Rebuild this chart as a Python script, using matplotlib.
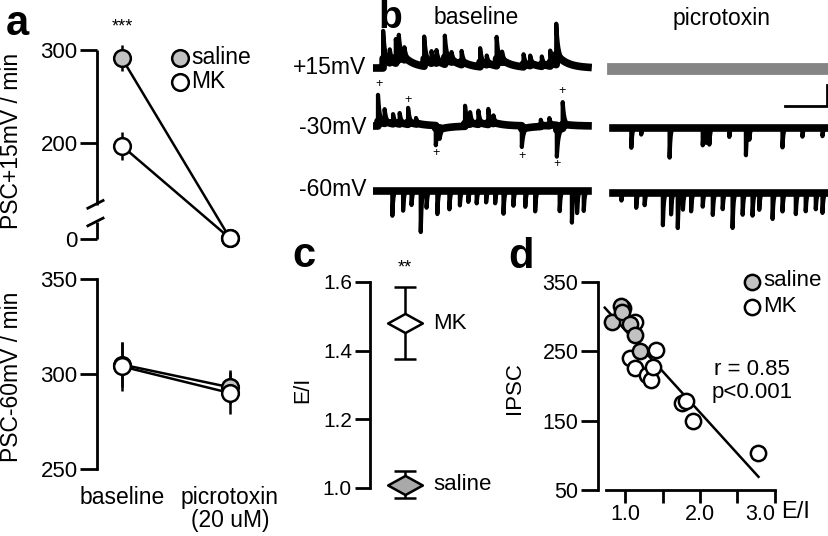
import numpy as np
import matplotlib.pyplot as plt
from matplotlib.path import Path
from matplotlib.lines import Line2D
from matplotlib.transforms import ScaledTranslation

plt.rcParams['font.family'] = ['Liberation Sans', 'DejaVu Sans']
plt.rcParams['font.size'] = 14

# ---- panel a: PSC rates ----
conditions = ['baseline', 'picrotoxin\n(20 uM)']
sal_p15 = [291, 3]
sal_p15_err = [14, 2]
mk_p15 = [197, 3]
mk_p15_err = [15, 2]
sal_m60 = [305, 293]
sal_m60_err = [12, 9]
mk_m60 = [304, 290]
mk_m60_err = [13, 11]

# ---- panel b: event times (fraction of sweep) and amplitudes ----
p15_base_t = [0.047, 0.078, 0.106, 0.12, 0.146, 0.238, 0.272, 0.295, 0.334, 0.365,
              0.412, 0.498, 0.529, 0.575, 0.60, 0.70, 0.731, 0.785, 0.824, 0.852]
p15_base_a = [38, 13, 24, 22, 12, 30, 12, 13, 29, 10, 14, 19, 9, 29, 10, 13, 10, 10, 16, 42]
m30_base_t = [0.023, 0.054, 0.093, 0.124, 0.163, 0.20, 0.292, 0.31, 0.428, 0.451,
              0.49, 0.536, 0.56, 0.692, 0.78, 0.82, 0.855, 0.882]
m30_base_a = [32, 14, 10, 11, 17, 6, -20, -10, 21, 12, 14, 16, 8, -22, 7, 8, -32, 28]
m60_base_t = [0.09, 0.14, 0.179, 0.222, 0.249, 0.299, 0.355, 0.404, 0.443, 0.482,
              0.526, 0.568, 0.607, 0.653, 0.708, 0.754, 0.868, 0.925, 0.949, 0.98]
m60_base_a = [-25, -20, -15, -42, -18, -25, -20, -15, -12, -13,
              -12, -13, -23, -15, -17, -22, -22, -33, -23, -22]
m30_ptx_t = [0.085, 0.131, 0.263, 0.417, 0.433, 0.448, 0.541, 0.618, 0.634, 0.788, 0.881, 0.974]
m30_ptx_a = [-21, -7, -32, -19, -16, -17, -9, -29, -12, -21, -9, -9]
m60_ptx_t = [0.039, 0.108, 0.147, 0.232, 0.27, 0.301, 0.325, 0.363, 0.417, 0.464, 0.51,
             0.556, 0.603, 0.649, 0.68, 0.742, 0.788, 0.85, 0.896, 0.943, 0.974]
m60_ptx_a = [-8, -15, -13, -33, -22, -38, -18, -20, -15, -23, -17,
             -37, -22, -23, -18, -28, -20, -23, -20, -17, -22]
plus_t = [0.028, 0.163, 0.293, 0.693, 0.856, 0.88]
plus_y = [-84, -100, -153, -156, -164, -91]

# ---- panel c: E/I ----
ei_groups = ['saline', 'MK']
ei_mean = [1.01, 1.48]
ei_err = [0.04, 0.105]

# ---- panel d: IPSC vs E/I ----
sal_ei = [0.82, 0.95, 0.96, 1.07, 1.13, 1.20]
sal_ipsc = [292, 316, 306, 290, 274, 251]
mk_ei = [0.97, 1.13, 1.07, 1.13, 1.29, 1.35, 1.38, 1.42, 1.76, 1.82, 1.91, 2.78]
mk_ipsc = [313, 292, 240, 226, 216, 209, 228, 252, 176, 178, 149, 104]
fit_ei = [0.73, 2.78]
fit_ipsc = [313, 69]

GRAY = '#c2c2c2'
W, H = 829, 536
fig = plt.figure(figsize=(W / 100, H / 100), dpi=100)
FS = 16.5


def px_axes(l, t, r, b):
    return fig.add_axes([l / W, 1 - b / H, (r - l) / W, (b - t) / H])


def fx(x):
    return x / W


def fy(y):
    return 1 - y / H


def style(ax, ylen=12, lsize=16):
    for s in ['top', 'right', 'bottom']:
        ax.spines[s].set_visible(False)
    ax.spines['left'].set_linewidth(2)
    ax.tick_params(axis='y', length=ylen, width=2, pad=2, labelsize=lsize)
    ax.tick_params(axis='x', length=0)
    ax.patch.set_alpha(0)


def group(ax, x, y, err, fill):
    ax.errorbar(x, y, yerr=err, fmt='-o', color='k', mfc=fill, mec='k', ms=12,
                mew=1.8, lw=1.8, elinewidth=1.8, capsize=0)


# ---------- panel a (top, broken axis) ----------
def fwd(v):
    v = np.asarray(v, dtype=float)
    return np.where(v >= 125, v, 97 + v * 28 / 125)


def inv(u):
    u = np.asarray(u, dtype=float)
    return np.where(u >= 125, u, (u - 97) * 125 / 28)


x = np.arange(len(conditions))
ax1 = px_axes(97, 30, 300, 250)
style(ax1)
ax1.spines['left'].set_visible(False)
ax1.set_yscale('function', functions=(fwd, inv))
ax1.set_ylim(-52.7, 321.5)
ax1.set_xlim(-0.2315, 1.648)
ax1.set_yticks([0, 200, 300])
ax1.set_yticklabels(['0', '200', '300'])
ax1.set_xticks([])
ax1.yaxis.set_minor_locator(plt.NullLocator())
ytr = ax1.get_yaxis_transform()
ax1.plot([0, 0], [133, 300], color='k', lw=2, transform=ytr, clip_on=False, solid_capstyle='butt')
ax1.plot([0, 0], [0, 80], color='k', lw=2, transform=ytr, clip_on=False, solid_capstyle='butt')
ax1.plot([-0.045, 0.03], [0.19, 0.225], color='k', lw=2, transform=ax1.transAxes, clip_on=False)
ax1.plot([-0.045, 0.03], [0.110, 0.145], color='k', lw=2, transform=ax1.transAxes, clip_on=False)
group(ax1, x, sal_p15, sal_p15_err, GRAY)
group(ax1, x, mk_p15, mk_p15_err, 'white')
fig.text(fx(122), fy(27), '***', ha='center', va='center', fontsize=13)
fig.add_artist(Line2D([fx(180)], [fy(58)], marker='o', ms=12, mfc=GRAY, mec='k', mew=1.8))
fig.add_artist(Line2D([fx(180)], [fy(82)], marker='o', ms=12, mfc='white', mec='k', mew=1.8))
fig.text(fx(191), fy(57), 'saline', va='center', fontsize=FS)
fig.text(fx(191), fy(81), 'MK', va='center', fontsize=FS)
fig.text(fx(12), fy(141), 'PSC+15mV / min', rotation=90, ha='center', va='center', fontsize=FS)

# ---------- panel a (bottom) ----------
ax2 = px_axes(97, 265, 300, 480)
style(ax2)
ax2.set_ylim(244.2, 357.4)
ax2.set_xlim(-0.2315, 1.648)
ax2.spines['left'].set_bounds(250, 350)
ax2.set_yticks([250, 300, 350])
ax2.set_xticks(x)
ax2.set_xticklabels(conditions, fontsize=FS, linespacing=1.05)
ax2.tick_params(axis='x', pad=4)
group(ax2, x, sal_m60, sal_m60_err, GRAY)
group(ax2, x, mk_m60, mk_m60_err, 'white')
fig.text(fx(12), fy(377), 'PSC-60mV / min', rotation=90, ha='center', va='center', fontsize=FS)

# ---------- panel b: traces ----------
axb = px_axes(373, 0, 829, 240)
axb.set_xlim(0, 456 / 215)
axb.set_ylim(-240, 0)
axb.axis('off')
t = np.linspace(0, 1, 2500)


def trace(times, amps, tau, slow=0.0):
    fast = np.zeros_like(t)
    band = np.zeros_like(t)
    for t0, a in zip(times, amps):
        dt = t - t0
        on = dt >= 0
        kf = np.zeros_like(t)
        ks = np.zeros_like(t)
        kf[on] = np.exp(-dt[on] / tau)
        ks[on] = np.exp(-dt[on] / 0.05)
        fast += a * ((1 - slow) * kf + slow * ks)
        band += a * slow * ks
    return fast, band


ptx0 = 240 / 215
sweeps = [
    (0, -68, p15_base_t, p15_base_a, 0.008, 0.25),
    (0, -126, m30_base_t, m30_base_a, 0.007, 0.15),
    (0, -191, m60_base_t, m60_base_a, 0.004, 0.0),
    (ptx0, -128, m30_ptx_t, m30_ptx_a, 0.004, 0.0),
    (ptx0, -193, m60_ptx_t, m60_ptx_a, 0.004, 0.0),
]
for x0, y0, tt, aa, tau, slow in sweeps:
    fast, band = trace(tt, aa, tau, slow)
    axb.plot(x0 + t, y0 + band, color='k', lw=5.5)
    axb.plot(x0 + t, y0 + fast, color='k', lw=3)
axb.plot(ptx0 + t, np.full_like(t, -69), color='#858585', lw=8.5)
for xp, yp in zip(plus_t, plus_y):
    axb.text(xp, yp, '+', ha='center', va='center', fontsize=9)
for lab, yl in zip(['+15mV', '-30mV', '-60mV'], [-67, -127, -190]):
    axb.text(-0.03, yl, lab, ha='right', va='center', fontsize=FS, clip_on=False)
axb.text(0.48, -18, 'baseline', ha='center', va='center', fontsize=FS)
axb.text(1.623, -18, 'picrotoxin', ha='center', va='center', fontsize=FS)
axb.plot([1.916, 2.11, 2.11], [-106, -106, -85], color='k', lw=2, clip_on=False)

# ---------- panel c ----------
ax3 = px_axes(370, 265, 480, 500)
style(ax3, ylen=11, lsize=15)
ax3.set_ylim(0.965, 1.6495)
ax3.set_xlim(-1, 2.14)
ax3.spines['left'].set_bounds(1.0, 1.6)
ax3.set_yticks([1.0, 1.2, 1.4, 1.6])
ax3.set_yticklabels(['1.0', '1.2', '1.4', '1.6'])
ax3.set_xticks([])
diamond = Path([(-1, 0), (0, 0.55), (1, 0), (0, -0.55), (-1, 0)],
               [Path.MOVETO, Path.LINETO, Path.LINETO, Path.LINETO, Path.CLOSEPOLY])
for g, m, e, fill in zip(ei_groups, ei_mean, ei_err, ['#a9a9a9', 'white']):
    ax3.errorbar([0], [m], yerr=[e], fmt='none', ecolor='k', elinewidth=1.8,
                 capsize=8, capthick=1.8)
    ax3.plot([0], [m], marker=diamond, ms=25, mfc=fill, mec='k', mew=1.8, zorder=5)
    ax3.text(0.8, m, g, va='center', fontsize=16)
ax3.text(0, 1.641, '**', ha='center', va='center', fontsize=13)
fig.text(fx(303), fy(390), 'E/I', rotation=90, ha='center', va='center', fontsize=15.5)

# ---------- panel d ----------
ax4 = px_axes(598, 265, 829, 490)
style(ax4, ylen=12, lsize=15.5)
ax4.spines['bottom'].set_visible(True)
ax4.spines['bottom'].set_linewidth(2)
ax4.set_xlim(0.64, 3.72)
ax4.set_ylim(50, 374.5)
ax4.spines['left'].set_bounds(50, 350)
ax4.spines['bottom'].set_bounds(0.75, 3.0)
ax4.set_yticks([50, 150, 250, 350])
ax4.set_xticks([1.0, 1.5, 2.0, 2.5, 3.0])
ax4.set_xticklabels(['1.0', '', '2.0', '', '3.0'])
ax4.tick_params(axis='x', length=9, width=2, pad=1, labelsize=15.5)
last = ax4.get_xticklabels()[-1]
last.set_transform(last.get_transform() + ScaledTranslation(-0.15, 0, fig.dpi_scale_trans))
ax4.plot(fit_ei, fit_ipsc, color='k', lw=1.8, zorder=1)
ax4.plot(mk_ei, mk_ipsc, 'o', ms=11, mfc='white', mec='k', mew=1.8, zorder=3)
ax4.plot(sal_ei, sal_ipsc, 'o', ms=11, mfc=GRAY, mec='k', mew=1.8, zorder=4)
fig.text(fx(781), fy(512), 'E/I', va='center', fontsize=17)
ax4.text(0.667, 0.484, 'r = 0.85\np<0.001', transform=ax4.transAxes, ha='center',
         va='center', fontsize=16, linespacing=1.1)
fig.add_artist(Line2D([fx(752)], [fy(282)], marker='o', ms=11, mfc=GRAY, mec='k', mew=1.8))
fig.add_artist(Line2D([fx(752)], [fy(307)], marker='o', ms=11, mfc='white', mec='k', mew=1.8))
fig.text(fx(763), fy(281), 'saline', va='center', fontsize=16)
fig.text(fx(763), fy(306), 'MK', va='center', fontsize=16)
fig.text(fx(515), fy(388), 'IPSC', rotation=90, ha='center', va='center', fontsize=16)

# panel letters
fig.text(fx(17), fy(24), 'a', ha='center', va='center', fontsize=30, fontweight='bold')
fig.text(fx(390), fy(0), 'b', ha='center', va='top', fontsize=28, fontweight='bold')
fig.text(fx(304), fy(256), 'c', ha='center', va='center', fontsize=30, fontweight='bold')
fig.text(fx(521), fy(257), 'd', ha='center', va='center', fontsize=30, fontweight='bold')

fig.savefig('out.png', dpi=100)
